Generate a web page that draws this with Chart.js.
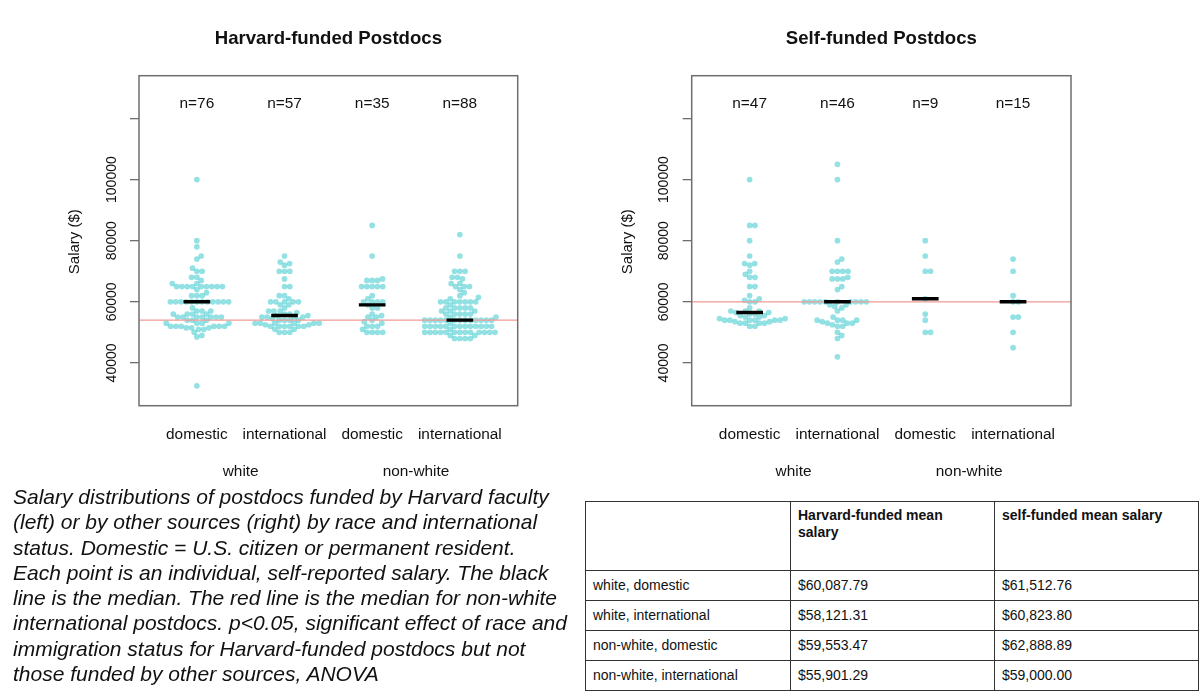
<!DOCTYPE html>
<html>
<head>
<meta charset="utf-8">
<script src="https://cdn.jsdelivr.net/npm/chart.js@4.4.1/dist/chart.umd.min.js"></script>
<style>
html,body{margin:0;padding:0;background:#fff;}
body{width:1200px;height:698px;position:relative;overflow:hidden;font-family:"Liberation Sans",Arial,sans-serif;}
#c1{position:absolute;left:0;top:0;}
#c2{position:absolute;left:600px;top:0;}
#caption{position:absolute;left:13px;top:484px;font-size:21px;line-height:25.3px;font-style:italic;color:#111;white-space:nowrap;}
#tbl{position:absolute;left:585px;top:501px;border-collapse:collapse;table-layout:fixed;width:613px;font-size:14px;color:#111;}
#tbl td{border:1.5px solid #333;padding:0 7px;vertical-align:middle;line-height:17px;}
#tbl tr.h td{vertical-align:top;padding-top:5px;font-weight:bold;height:63px;}
#tbl tr.r td{height:29px;}
</style>
</head>
<body>
<canvas id="c1" width="600" height="490"></canvas>
<canvas id="c2" width="600" height="490"></canvas>
<div id="caption">Salary distributions of postdocs funded by Harvard faculty<br>(left) or by other sources (right) by race and international<br>status. Domestic = U.S. citizen or permanent resident.<br>Each point is an individual, self-reported salary. The black<br>line is the median. The red line is the median for non-white<br>international postdocs. p&lt;0.05, significant effect of race and<br>immigration status for Harvard-funded postdocs but not<br>those funded by other sources, ANOVA</div>
<table id="tbl">
<colgroup><col style="width:205px"><col style="width:204px"><col style="width:204px"></colgroup>
<tbody id="tbody"></tbody>
</table>
<script>
// ---------- DATA ----------
const categories = ["domestic", "international", "domestic", "international"];
const groupLabels = ["white", "non-white"];
const yTicks = [40000, 60000, 80000, 100000, 120000];
const yTickLabels = ["40000", "60000", "80000", "100000", ""];
const panelTitles = ["Harvard-funded Postdocs", "Self-funded Postdocs"];
const harvardN = [76, 57, 35, 88];
const selfN = [47, 46, 9, 15];

const harvardWhiteDomestic = [100000, 80000, 78000, 75000, 74000, 71000, 70000, 70000, 68000, 68000, 67000, 66000, 66000,
  65000, 65000, 65000, 65000, 65000, 65000, 65000, 65000, 65000, 64000, 63000, 62000, 62000, 62000,
  60000, 60000, 60000, 60000, 60000, 60000, 60000, 60000, 60000, 60000, 60000, 60000,
  58000, 57000, 57000, 57000, 56000, 56000, 56000, 56000,
  55000, 55000, 55000, 55000, 55000, 55000, 55000, 54000, 54000, 54000,
  53000, 53000, 53000, 53000, 52000, 52000, 52000, 52000, 52000, 52000,
  51500, 51500, 51500, 51000, 51000, 50000, 49000, 48500, 32500];
const harvardWhiteIntl = [75000, 73000, 72500, 72000, 70000, 70000, 70000, 67500, 65000, 65000, 62000, 62000, 61000,
  60000, 60000, 60000, 60000, 60000, 59000, 59000, 58000, 57000, 57000, 57000, 56500, 56000, 56000, 55500, 55500,
  55000, 55000, 55000, 55000, 54500, 54000, 54000, 54000, 54000,
  53000, 53000, 53000, 53000, 53000, 53000, 52500, 52500,
  52000, 52000, 52000, 52000, 52000, 52000, 51000, 51000, 50000, 50000, 50000];
const harvardNonwhiteDomestic = [85000, 75000, 67500, 67000, 67000, 67000, 65000, 65000, 65000, 65000, 65000,
  62000, 61000, 60000, 60000, 60000, 60000, 59000,
  58000, 58000, 56000, 55500, 55000, 55000, 54000, 53500, 53000, 52000, 52000, 52000, 51000,
  50000, 50000, 50000, 50000];
const harvardNonwhiteIntl = [82000, 75000, 70000, 70000, 70000, 68000, 68000, 67500, 66000, 66000,
  65000, 65000, 65000, 64000, 63000, 62000, 61500, 61000,
  60000, 60000, 60000, 60000, 60000, 60000, 60000, 59000,
  58000, 58000, 58000, 58000, 58000, 57000, 57000, 57000,
  56000, 56000, 56000, 56000, 56000, 55000, 55000,
  54000, 54000, 54000, 54000, 54000, 54000, 54000, 54000, 54000, 54000, 54000, 54000, 54000,
  53000,
  52000, 52000, 52000, 52000, 52000, 52000, 52000, 52000, 52000, 52000, 52000, 52000, 52000,
  51000,
  50000, 50000, 50000, 50000, 50000, 50000, 50000, 50000, 50000, 50000, 50000, 50000, 50000,
  49000, 49000, 48000, 48000, 48000, 48000];

const selfWhiteDomestic = [100000, 85000, 85000, 80000, 75000, 72500, 72500, 72000, 70000, 69000, 68000, 68000,
  65000, 65000, 62000, 61000, 60500, 60000, 60000, 58000, 57000, 57000, 57000, 56500,
  56500, 56000, 56000, 55500, 55500, 55000, 55000, 54500, 54500, 54000, 54000, 54000, 54000, 54000, 54000,
  53500, 53500, 53000, 53000, 53000, 53000, 52000, 52000];
const selfWhiteIntl = [105000, 100000, 80000, 74000, 73000, 70000, 70000, 70000, 70000, 68000, 67500, 67500, 67500,
  65000, 64000, 60000, 60000, 60000, 60000, 60000, 60000, 60000, 60000, 60000, 60000,
  59000, 59000, 58500, 58000, 57000, 55000, 54000, 54000, 54000, 54000, 53500, 53000, 53000, 53000,
  52500, 52000, 52000, 50000, 49000, 48000, 42000];
const selfNonwhiteDomestic = [80000, 75000, 70000, 70000, 61000, 56000, 54000, 50000, 50000];
const selfNonwhiteIntl = [74000, 70000, 62000, 60000, 60000, 55000, 55000, 50000, 45000];

const harvardGroups = [harvardWhiteDomestic, harvardWhiteIntl, harvardNonwhiteDomestic, harvardNonwhiteIntl];
const selfGroups = [selfWhiteDomestic, selfWhiteIntl, selfNonwhiteDomestic, selfNonwhiteIntl];

const tableHeader = ["", "Harvard-funded mean salary", "self-funded mean salary"];
const tableRows = ["white, domestic", "white, international", "non-white, domestic", "non-white, international"];
const harvardMeans = ["$60,087.79", "$58,121.31", "$59,553.47", "$55,901.29"];
const selfMeans = ["$61,512.76", "$60,823.80", "$62,888.89", "$59,000.00"];

// ---------- TABLE ----------
(function(){
  const tb = document.getElementById('tbody');
  let h = '<tr class="h">' + tableHeader.map(t => '<td>' + t + '</td>').join('') + '</tr>';
  tableRows.forEach((r, i) => {
    h += '<tr class="r"><td>' + r + '</td><td>' + harvardMeans[i] + '</td><td>' + selfMeans[i] + '</td></tr>';
  });
  tb.innerHTML = h;
})();

// ---------- CHARTS ----------
const FONT = '"Liberation Sans", Arial, sans-serif';
function median(a) {
  const s = a.slice().sort((p, q) => p - q);
  const m = Math.floor(s.length / 2);
  return s.length % 2 ? s[m] : (s[m - 1] + s[m]) / 2;
}

const decorPlugin = {
  id: 'decor',
  afterDatasetsDraw(chart, args, opts) {
    const ctx = chart.ctx, a = chart.chartArea;
    const xs = chart.scales.x, ys = chart.scales.y;
    ctx.save();
    ctx.strokeStyle = '#6e6e6e';
    ctx.lineWidth = 1.5;
    ctx.strokeRect(a.left, a.top, a.right - a.left, a.bottom - a.top);
    ctx.fillStyle = '#111';
    ctx.font = 'bold 18.6px ' + FONT;
    ctx.textAlign = 'center';
    ctx.textBaseline = 'middle';
    ctx.fillText(opts.title, (a.left + a.right) / 2, 39);
    ctx.font = '15.4px ' + FONT;
    opts.n.forEach((n, i) => ctx.fillText('n=' + n, xs.getPixelForValue(i + 1), a.top + 27.6));
    categories.forEach((c, i) => ctx.fillText(c, xs.getPixelForValue(i + 1), a.bottom + 29.5));
    groupLabels.forEach((g, i) => ctx.fillText(g, xs.getPixelForValue(1.5 + 2 * i), a.bottom + 66.5));
    ctx.font = '14px ' + FONT;
    yTicks.forEach((v, i) => {
      if (!yTickLabels[i]) return;
      ctx.save();
      ctx.translate(a.left - 27.3, ys.getPixelForValue(v));
      ctx.rotate(-Math.PI / 2);
      ctx.fillText(yTickLabels[i], 0, 0);
      ctx.restore();
    });
    ctx.font = '15px ' + FONT;
    ctx.save();
    ctx.translate(a.left - 64, (a.top + a.bottom) / 2 + 1);
    ctx.rotate(-Math.PI / 2);
    ctx.fillText('Salary ($)', 0, 0);
    ctx.restore();
    ctx.restore();
  }
};

function makeChart(id, groups, nLabels, title, padLeft, padRight) {
  const datasets = [];
  groups.forEach((vals) => {
    datasets.push({
      type: 'scatter',
      data: vals.map(v => ({ x: 0, y: v })),
      backgroundColor: 'rgba(0,184,190,0.42)',
      borderWidth: 0,
      pointRadius: 2.85,
      pointHoverRadius: 2.85,
      order: 3
    });
  });
  const refMed = median(groups[3]);
  datasets.push({
    type: 'scatter', showLine: true,
    data: [{ x: 0.34, y: refMed }, { x: 4.66, y: refMed }],
    borderColor: '#f29a96', borderWidth: 1.2, pointRadius: 0, order: 2
  });
  groups.forEach((vals, i) => {
    const m = median(vals);
    datasets.push({
      type: 'scatter', showLine: true,
      data: [{ x: i + 1 - 0.152, y: m }, { x: i + 1 + 0.152, y: m }],
      borderColor: '#000', borderWidth: 3.4, pointRadius: 0, order: 1, borderCapStyle: 'butt'
    });
  });
  const chart = new Chart(document.getElementById(id), {
    type: 'scatter',
    data: { datasets },
    options: {
      responsive: false,
      animation: false,
      devicePixelRatio: 1,
      layout: { padding: { left: padLeft, right: padRight, top: 75.7, bottom: 84.3 } },
      plugins: { legend: { display: false }, tooltip: { enabled: false }, decor: { title, n: nLabels } },
      scales: {
        x: { type: 'linear', min: 0.34, max: 4.66, display: false },
        y: {
          type: 'linear', min: 26000, max: 134000, position: 'left',
          afterBuildTicks: s => { s.ticks = yTicks.map(v => ({ value: v })); },
          afterFit: s => { s.width = 9; },
          ticks: { display: false },
          grid: { drawOnChartArea: false, drawTicks: true, tickLength: 9, color: '#6e6e6e', lineWidth: 1.3 },
          border: { display: false }
        }
      }
    },
    plugins: [decorPlugin]
  });
  // beeswarm ("swarm") layout computed through the chart's scales
  const xs = chart.scales.x, ys = chart.scales.y;
  const d = 5.3;
  groups.forEach((vals, gi) => {
    const cx = xs.getPixelForValue(gi + 1);
    const pts = vals.map(v => ({ v, py: ys.getPixelForValue(v), px: 0 }));
    const order = pts.slice().sort((p, q) => p.v - q.v);
    const placed = [];
    for (const p of order) {
      const cands = [0];
      for (const q of placed) {
        const dy = p.py - q.py;
        if (Math.abs(dy) < d) {
          const dx = Math.sqrt(d * d - dy * dy);
          cands.push(q.px + dx, q.px - dx);
        }
      }
      cands.sort((u, w) => Math.abs(u) - Math.abs(w));
      let chosen = 0;
      for (const c of cands) {
        let ok = true;
        for (const q of placed) {
          const ddx = c - q.px, ddy = p.py - q.py;
          if (ddx * ddx + ddy * ddy < d * d - 0.01) { ok = false; break; }
        }
        if (ok) { chosen = c; break; }
      }
      p.px = chosen;
      placed.push(p);
    }
    chart.data.datasets[gi].data = pts.map(p => ({ x: xs.getValueForPixel(cx + p.px), y: p.v }));
  });
  chart.update('none');
  return chart;
}

makeChart('c1', harvardGroups, harvardN, panelTitles[0], 130, 82.3);
makeChart('c2', selfGroups, selfN, panelTitles[1], 82.7, 129);
</script>
</body>
</html>
